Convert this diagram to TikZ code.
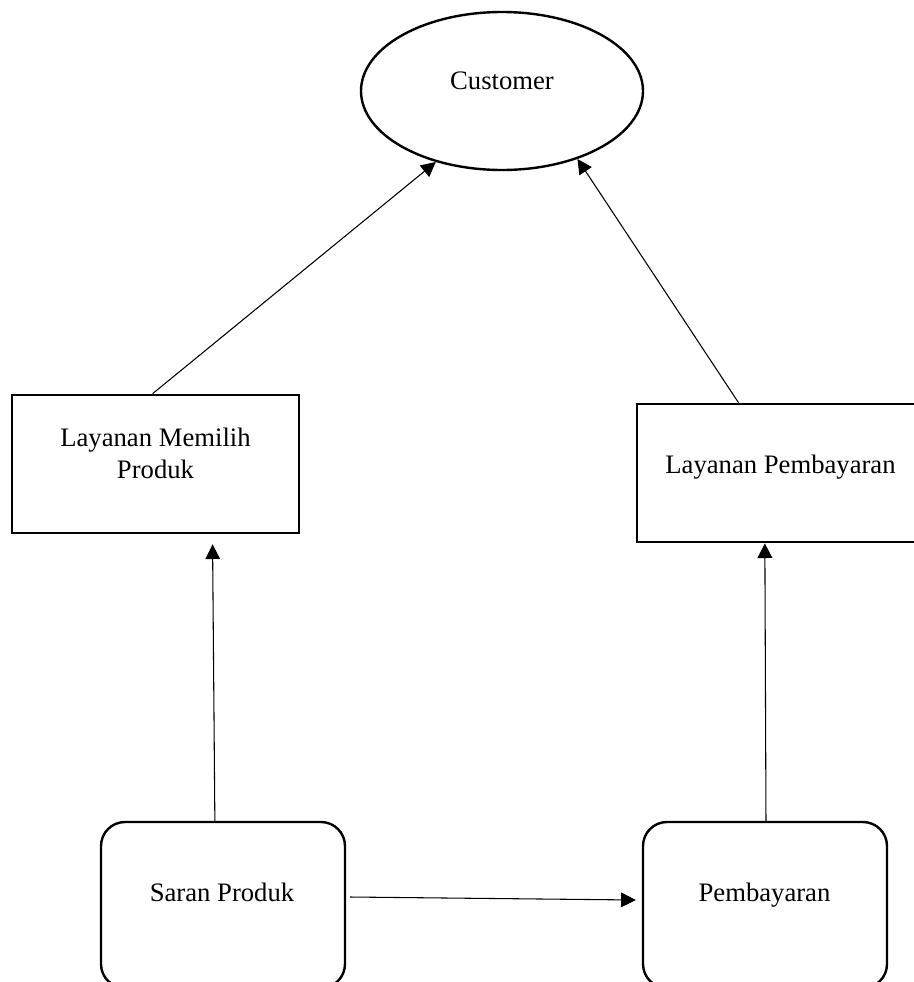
\documentclass[tikz,border=0pt]{standalone}
\usepackage{fontspec}
\setmainfont{Liberation Serif}
\usetikzlibrary{arrows.meta,calc,shapes.geometric}
\begin{document}
\begin{tikzpicture}[x=0.75pt,y=-0.75pt,
  txt/.style={font=\fontsize{20}{24}\selectfont, align=center},
  actor/.style={ellipse, draw, line width=1.8pt, minimum width=211.5pt, minimum height=118.5pt, inner sep=0pt},
  service/.style={rectangle, draw, line width=2pt, minimum width=215.25pt, minimum height=103.5pt, inner sep=0pt},
  process/.style={rectangle, rounded corners=18pt, draw, line width=1.8pt, minimum width=183pt, minimum height=124.5pt, inner sep=0pt},
  flow/.style={line width=0.8pt, -{Triangle[length=11pt,width=11pt]}}
]
\useasboundingbox (0,0) rectangle (914,982);
\clip (0,0) rectangle (914,982);

% shapes with their captions
\node[actor] (cust) at (502,91) {};
\node[txt] (custtxt) at (502,81) {Customer};

\node[service] (lmp) at (155.5,464) {};
\node[txt] (lmptxt) at (155.5,453.5) {Layanan Memilih\\Produk};

\node[service] (lpb) at (780.5,473) {};
\node[txt] (lpbtxt) at (780.5,467.5) {Layanan Pembayaran};

\node[process] (saran) at (223,905) {};
\node[txt] (sarantxt) at (222,892) {Saran Produk};

\node[process] (pemb) at (765,905) {};
\node[txt] (pembtxt) at (764.5,895) {Pembayaran};

% connectors
\draw[flow] ($(lmp.north west)!0.49!(lmp.north east)$) -- (cust.227.5);
\draw[flow] ($(lpb.north west)!0.355!(lpb.north east)$) -- (cust.318.9);
\draw[flow] ($(saran.north west)!0.467!(saran.north east)$) -- ($(lmp.south west)!0.697!(lmp.south east)+(0,10)$);
\draw[flow] ($(pemb.north west)!0.504!(pemb.north east)$) -- ($(lpb.south west)!0.446!(lpb.south east)$);
\draw[flow] ($(saran.east)+(4,-8)$) -- ($(pemb.west)+(-6,-5)$);
\end{tikzpicture}
\end{document}
